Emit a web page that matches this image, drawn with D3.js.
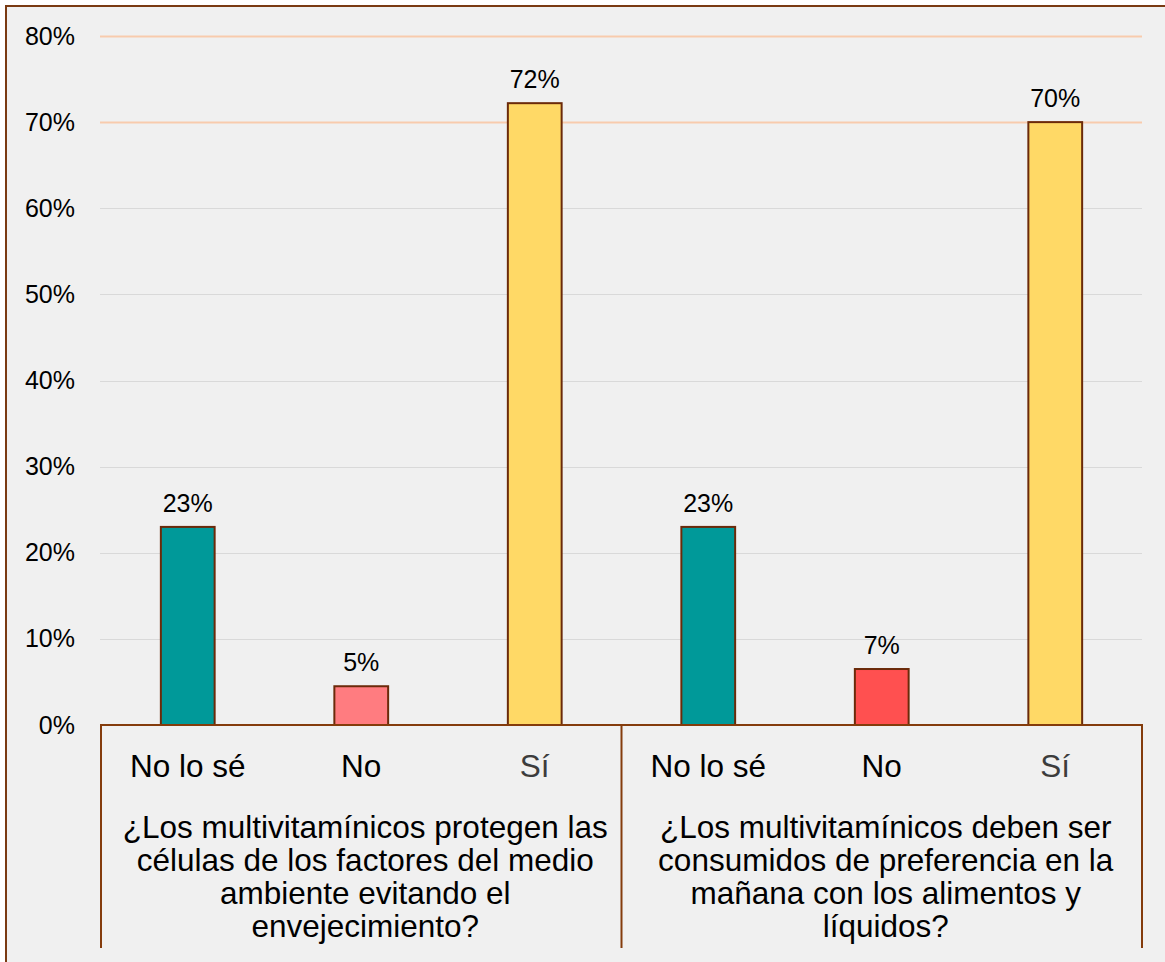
<!DOCTYPE html>
<html>
<head>
<meta charset="utf-8">
<script src="https://cdn.jsdelivr.net/npm/d3@7/dist/d3.min.js"></script>
<style>
  html, body { margin: 0; padding: 0; background: #ffffff; }
  svg { display: block; font-family: "Liberation Sans", Arial, sans-serif; }
</style>
</head>
<body>
<svg id="chart" width="1165" height="962"></svg>
<script>
// Answer options shown under each question
const categories = ["No lo sé", "No", "Sí"];

// Questions (each one is a group of bars), already broken into lines
const questions = [
  ["¿Los multivitamínicos protegen las", "células de los factores del medio", "ambiente evitando el", "envejecimiento?"],
  ["¿Los multivitamínicos deben ser", "consumidos de preferencia en la", "mañana con los alimentos y", "líquidos?"]
];

// Percent of answers per option, one array per question
const question1Values = [23, 4.5, 72.2];
const question2Values = [23, 6.5, 70];

// Bar fill colours per question and option
const question1Colors = ["#009999", "#ff7c80", "#ffd966"];
const question2Colors = ["#009999", "#ff5050", "#ffd966"];

// Y axis ticks (percent)
const yTicks = [0, 10, 20, 30, 40, 50, 60, 70, 80];

const groups = [
  { lines: questions[0], values: question1Values, colors: question1Colors },
  { lines: questions[1], values: question2Values, colors: question2Colors }
];

const svg = d3.select("#chart");
const W = 1165, H = 962;
const brown = "#843c0c";
const plot = { left: 101, right: 1142, top: 36, bottom: 725 };

// Chart area background and frame
svg.append("rect").attr("x", 6).attr("y", 6).attr("width", W).attr("height", H)
  .attr("fill", "#f0f0f0").attr("stroke", "#7a3a12").attr("stroke-width", 2);

const y = d3.scaleLinear().domain([0, 80]).range([plot.bottom, plot.top]);

const xGroup = d3.scaleBand().domain(d3.range(groups.length))
  .range([plot.left, plot.right]).padding(0);

const xCat = d3.scaleBand().domain(categories)
  .range([0, xGroup.bandwidth()]).paddingInner(0.69).paddingOuter(0.345);

// Horizontal gridlines
svg.append("g").selectAll("line").data(yTicks.filter(t => t > 0)).join("line")
  .attr("x1", plot.left - 1).attr("x2", plot.right)
  .attr("y1", d => Math.round(y(d)) + 0.5).attr("y2", d => Math.round(y(d)) + 0.5)
  .attr("stroke", d => d >= 70 ? "#f8cbad" : "#d9d9d9")
  .attr("stroke-width", d => d >= 70 ? 2 : 1);

// Y axis labels
const yAxis = d3.axisLeft(y).tickValues(yTicks).tickFormat(d => d + "%").tickSize(0).tickPadding(0);
const yG = svg.append("g").attr("transform", "translate(75,0)").call(yAxis);
yG.select(".domain").remove();
yG.selectAll("text").attr("font-size", 25).attr("fill", "#000")
  .attr("font-family", "Liberation Sans, Arial, sans-serif");

// Bars and value labels
groups.forEach((g, gi) => {
  const gx = xGroup(gi);
  const gSel = svg.append("g").attr("transform", `translate(${gx},0)`);
  gSel.selectAll("rect").data(categories).join("rect")
    .attr("x", c => xCat(c))
    .attr("y", (c, i) => y(g.values[i]))
    .attr("width", xCat.bandwidth())
    .attr("height", (c, i) => y(0) - y(g.values[i]))
    .attr("fill", (c, i) => g.colors[i])
    .attr("stroke", "#6b2a0a").attr("stroke-width", 2);
  gSel.selectAll("text.val").data(categories).join("text")
    .attr("class", "val")
    .attr("x", c => xCat(c) + xCat.bandwidth() / 2)
    .attr("y", (c, i) => y(g.values[i]) - 15)
    .attr("text-anchor", "middle").attr("font-size", 25).attr("fill", "#000")
    .text((c, i) => Math.round(g.values[i]) + "%");
  // category labels
  gSel.selectAll("text.cat").data(categories).join("text")
    .attr("class", "cat")
    .attr("x", c => xCat(c) + xCat.bandwidth() / 2)
    .attr("y", 777)
    .attr("text-anchor", "middle").attr("font-size", 31.5)
    .attr("fill", c => c === "Sí" ? "#3c3c3c" : "#000")
    .text(c => c);
  // question text
  gSel.append("g").selectAll("text").data(g.lines).join("text")
    .attr("x", xGroup.bandwidth() / 2 + 4)
    .attr("y", (d, i) => 838 + i * 33)
    .attr("text-anchor", "middle").attr("font-size", 31.5).attr("fill", "#000")
    .text(d => d);
});

// Category axis: baseline and group dividers
svg.append("line").attr("x1", plot.left - 1).attr("x2", plot.right + 1)
  .attr("y1", plot.bottom).attr("y2", plot.bottom)
  .attr("stroke", brown).attr("stroke-width", 2);
svg.append("g").selectAll("line").data(d3.range(groups.length + 1)).join("line")
  .attr("x1", i => i < groups.length ? xGroup(i) : plot.right)
  .attr("x2", i => i < groups.length ? xGroup(i) : plot.right)
  .attr("y1", plot.bottom).attr("y2", 948)
  .attr("stroke", brown).attr("stroke-width", 2);
</script>
</body>
</html>
